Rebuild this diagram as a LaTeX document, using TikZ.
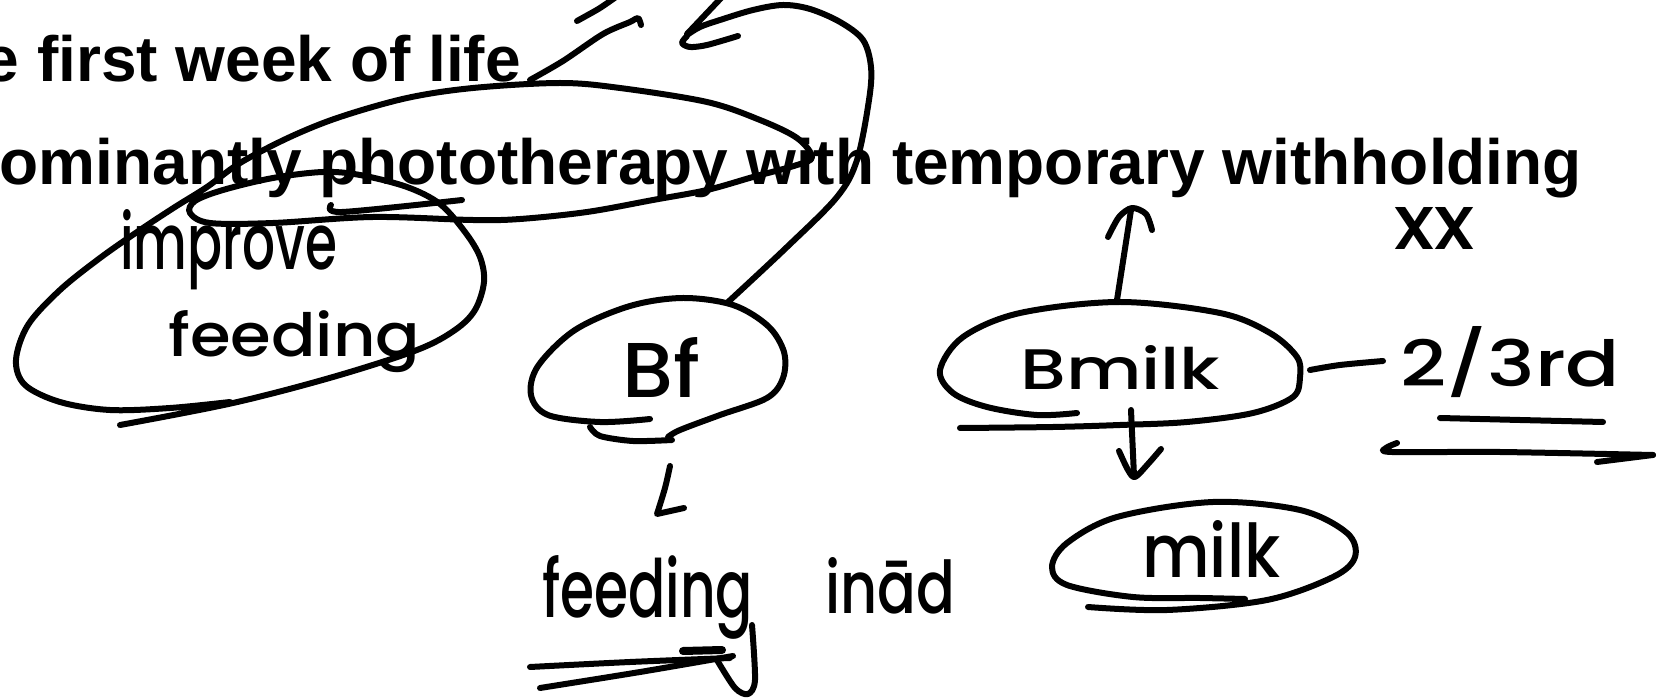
\documentclass[tikz,border=0pt]{standalone}
\usepackage{fontspec}
\usepackage{graphicx}
\setmainfont{Liberation Sans}
\newfontfamily\hand{Poppins Medium}
% handwritten word, fitted to a given width and height
\newcommand\hwtext[3]{\resizebox{#1pt}{#2pt}{\hand #3}}
\begin{document}
\begin{tikzpicture}[x=1pt,y=-1pt,
  ink/.style={line width=6pt, line cap=round, line join=round},
  typed/.style={inner sep=0pt, font=\fontsize{64}{70}\selectfont\bfseries},
  hw/.style={inner sep=0pt, anchor=base west}]
\useasboundingbox[fill=white] (0,0) rectangle (1671,700);

% slide text
\node[typed, anchor=base east] (line1) at (521,82) {e first week of life};
\node[typed, anchor=base east] (line2) at (1582,185) {ominantly phototherapy with temporary withholding};

% handwritten words
\node[hw] (improve) at (120,270) {\hwtext{217}{60}{improve}};
\node[hw] (feedA)   at (168,357) {\hwtext{252}{46}{feeding}};
\node[hw] (bf)      at (622,398) {\hwtext{78}{60}{Bf}};
\node[hw] (feedB)   at (542,617) {\hwtext{211}{62}{feeding}};
\node[hw] (inad)    at (825,613) {\hwtext{130}{56}{in\=ad}};
\node[hw] (bmilk)   at (1020,390) {\hwtext{200}{44}{Bmilk}};
\node[hw] (milk)    at (1142,577) {\hwtext{138}{57}{milk}};
\node[hw] (third)   at (1400,387) {\hwtext{220}{60}{2/3rd}};
\node[hw] (xx)      at (1394,250) {\hwtext{80}{42}{xx}};

% loop round "phototherapy" running into the loop round "improve feeding"
\draw[ink] plot[smooth, tension=0.55] coordinates {
  (230,402) (170,408) (110,410) (60,402) (25,385) (16,360) (28,325) (60,290)
  (100,258) (140,230) (175,207) (207,187) (240,163) (290,137) (340,117) (407,98)
  (473,88) (560,83) (620,88) (707,102) (760,120) (797,138) (812,157) (797,165)
  (753,177) (707,190) (653,200) (587,212) (520,219) (473,220) (373,217) (273,223)
  (210,223) (190,213) (195,201) (223,190) (273,178) (323,172) (360,175) (407,187)
  (440,204) (465,232) (480,257) (484,282) (475,310) (455,330) (417,350) (333,377)
  (233,403) (120,425)};
\draw[ink] plot[smooth] coordinates {(331,205) (342,212) (462,200)};

% strokes above "life"
\draw[ink] plot[smooth] coordinates {(530,80) (563,61) (603,34) (630,22) (638,18) (641,25)};
\draw[ink] plot[smooth] coordinates {(577,21) (586,16) (600,8) (616,-3)};

% loop round "Bf"
\draw[ink] plot[smooth, tension=0.55] coordinates {
  (650,419) (600,422) (548,415) (531,395) (538,366) (575,330) (630,306) (683,298)
  (733,305) (768,326) (784,352) (783,378) (767,398) (720,415) (680,430) (668,437)};
\draw[ink] plot[smooth] coordinates {(590,427) (600,436) (633,441) (672,440)};

% curved arrow from "Bf" up to the top
\draw[ink] plot[smooth, tension=0.55] coordinates {
  (727,303) (787,247) (837,197) (857,160) (869,100) (871,67) (863,40) (840,22)
  (810,9) (783,5) (753,10) (720,20) (700,27) (687,35)};
\draw[ink] (723,-4) -- (687,34);
\draw[ink] plot[smooth] coordinates {(687,36) (682,43) (690,47) (707,45) (738,36)};

% mark under "Bf"
\draw[ink] plot[smooth] coordinates {(670,466) (665,488) (657,514)} -- (684,508);

% underlines of "feeding"
\draw[ink] plot[smooth] coordinates {(530,667) (630,662) (730,658)};
\draw[ink, line width=8pt] (683,651) -- (722,650);
\draw[ink] plot[smooth] coordinates {(540,688) (640,672) (733,656)};
\draw[ink] plot[smooth] coordinates {(752,625) (755,680) (748,694) (735,688) (717,660)};

% loop round "Bmilk"
\draw[ink] plot[smooth, tension=0.55] coordinates {
  (1077,413) (1037,415) (987,407) (953,393) (940,370) (963,337) (1020,313)
  (1120,302) (1220,313) (1270,333) (1297,357) (1300,377) (1293,397) (1253,413)
  (1187,422) (1120,425) (1053,427) (960,428)};
\draw[ink] (1117,300) -- (1131,210);
\draw[ink] plot[smooth] coordinates {(1108,237) (1119,217) (1132,208) (1146,214) (1152,230)};
\draw[ink] (1131,410) -- (1134,476);
\draw[ink] plot[smooth] coordinates {(1119,451) (1128,470) (1135,477) (1148,464) (1161,449)};

% link to "2/3rd" and its lines
\draw[ink] plot[smooth] coordinates {(1310,370) (1340,365) (1383,361)};
\draw[ink] plot[smooth] coordinates {(1440,418) (1520,420) (1603,422)};
\draw[ink] plot[smooth] coordinates {(1397,443) (1386,448) (1392,452) (1500,452) (1653,455)};
\draw[ink] (1597,462) -- (1653,455);

% loop round "milk"
\draw[ink] plot[smooth, tension=0.55] coordinates {
  (1245,599) (1200,598) (1133,597) (1067,585) (1052,567) (1067,543) (1117,517)
  (1213,502) (1300,510) (1347,533) (1355,557) (1333,577) (1267,600) (1167,610)
  (1088,607)};
\end{tikzpicture}
\end{document}
